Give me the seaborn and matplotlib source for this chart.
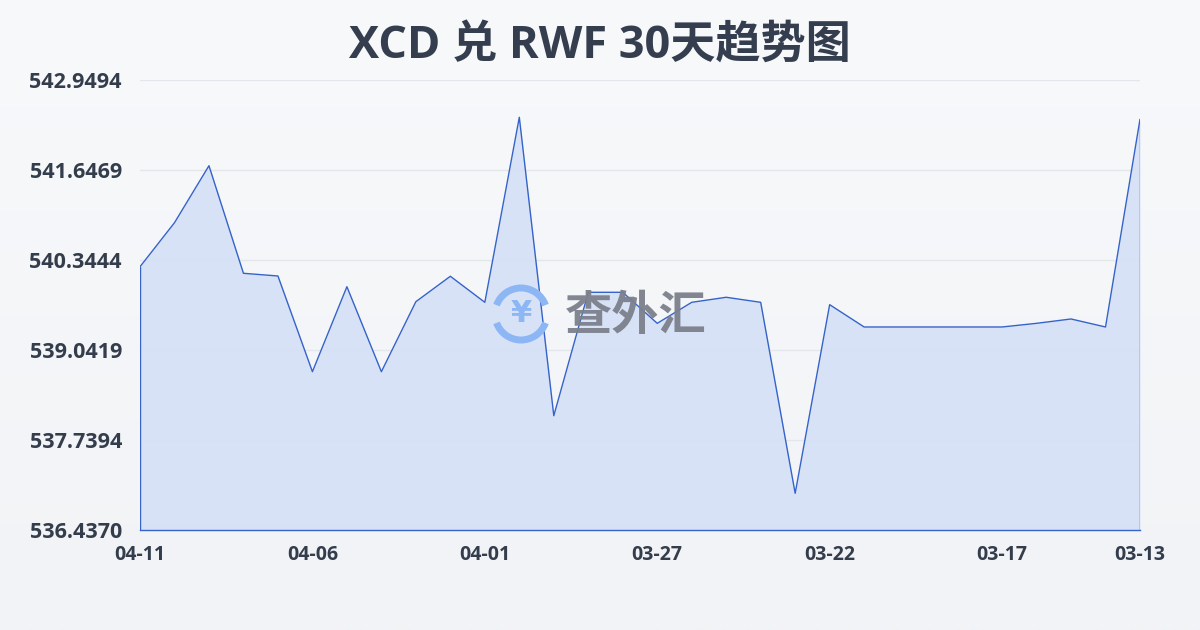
import matplotlib.pyplot as plt
import matplotlib.patches as mpatches
import numpy as np
import pandas as pd
import seaborn as sns

# dates from newest (left) to oldest (right)
dates = ["04-11", "04-10", "04-09", "04-08", "04-07", "04-06", "04-05", "04-04",
         "04-03", "04-02", "04-01", "03-31", "03-30", "03-29", "03-28", "03-27",
         "03-26", "03-25", "03-24", "03-23", "03-22", "03-21", "03-20", "03-19",
         "03-18", "03-17", "03-16", "03-15", "03-14", "03-13"]
rates = [540.247, 540.884, 541.709, 540.152, 540.113, 538.728, 539.958, 538.728,
         539.741, 540.109, 539.732, 542.410, 538.091, 539.877, 539.877, 539.428,
         539.732, 539.805, 539.732, 536.968, 539.698, 539.375, 539.375, 539.375,
         539.375, 539.375, 539.428, 539.491, 539.375, 542.381]
ytick_labels = ["536.4370", "537.7394", "539.0419", "540.3444", "541.6469", "542.9494"]
xtick_labels = ["04-11", "04-06", "04-01", "03-27", "03-22", "03-17", "03-13"]

df = pd.DataFrame({"date": dates, "rate": rates})
df["pos"] = range(len(df))

sns.set_theme(style="white")
plt.rcParams["font.family"] = ["Open Sans", "Noto Sans CJK SC", "DejaVu Sans"]

fig = plt.figure(figsize=(12, 6.3), dpi=100)
fig.patch.set_facecolor("#f5f6f8")
# soft vertical background gradient
bg = fig.add_axes([0, 0, 1, 1], zorder=-10)
grad = np.linspace(0, 1, 256).reshape(-1, 1)
bg.imshow(grad, aspect="auto", cmap=plt.matplotlib.colors.LinearSegmentedColormap.from_list(
    "bg", ["#f8f9fb", "#f1f3f6"]), extent=[0, 1, 0, 1])
bg.axis("off")

ax = fig.add_axes([140 / 1200, 1 - 530 / 630, 1000 / 1200, 450 / 630])
ax.set_facecolor("none")

yticks = [float(v) for v in ytick_labels]
ymin, ymax = yticks[0], yticks[-1]

ax.fill_between(df["pos"], df["rate"], ymin, color="#d6e1f6", alpha=0.95, linewidth=0, zorder=1)
sns.lineplot(data=df, x="pos", y="rate", ax=ax, color="#3563c9", linewidth=1.0, zorder=3)
# edges of the filled area
ax.plot([0, 0], [ymin, rates[0]], color="#3563c9", linewidth=1.0, zorder=3)
ax.plot([len(df) - 1, len(df) - 1], [ymin, rates[-1]], color="#3563c9", linewidth=1.0, zorder=3)

ax.set_xlim(0, len(df) - 1)
ax.set_ylim(ymin, ymax)
ax.set_yticks(yticks)
ax.set_yticklabels(ytick_labels)
xt = [dates.index(d) for d in xtick_labels]
ax.set_xticks(xt)
ax.set_xticklabels(xtick_labels)
ax.set_xlabel("")
ax.set_ylabel("")

ax.grid(axis="y", color="#e3e6eb", linewidth=1.0, zorder=0)
ax.set_axisbelow(True)
for s in ["top", "right", "left"]:
    ax.spines[s].set_visible(False)
ax.spines["bottom"].set_color("#3563c9")
ax.spines["bottom"].set_linewidth(1.0)

ax.tick_params(axis="y", length=0, pad=13, labelsize=15.5, labelcolor="#343d4c")
ax.tick_params(axis="x", length=6, width=0.8, color="#e0e3e8", pad=5, labelsize=14, labelcolor="#343d4c")
for lbl in ax.get_yticklabels() + ax.get_xticklabels():
    lbl.set_fontweight("bold")

fig.text(0.5, 1 - 46 / 630, "XCD 兑 RWF 30天趋势图", ha="center", va="center",
         fontsize=32.5, fontweight="bold", color="#343e4f")

# watermark
wm = fig.add_axes([0, 0, 1, 1], zorder=5)
wm.set_xlim(0, 1200)
wm.set_ylim(630, 0)
wm.axis("off")
wm.add_patch(mpatches.Arc((521, 314), 52, 52, theta1=200, theta2=340, color="#8db6f5", linewidth=5))
wm.add_patch(mpatches.Arc((521, 314), 52, 52, theta1=20, theta2=160, color="#8db6f5", linewidth=5))
wm.text(521, 314, "¥", ha="center", va="center", fontsize=22, fontweight="bold",
        color="#8db6f5", family=["DejaVu Sans"])
wm.text(636, 316, "查外汇", ha="center", va="center", fontsize=34, fontweight="bold",
        color="#7b808c", alpha=0.95, family=["Noto Sans CJK SC"])

fig.savefig("out.png", dpi=100)
